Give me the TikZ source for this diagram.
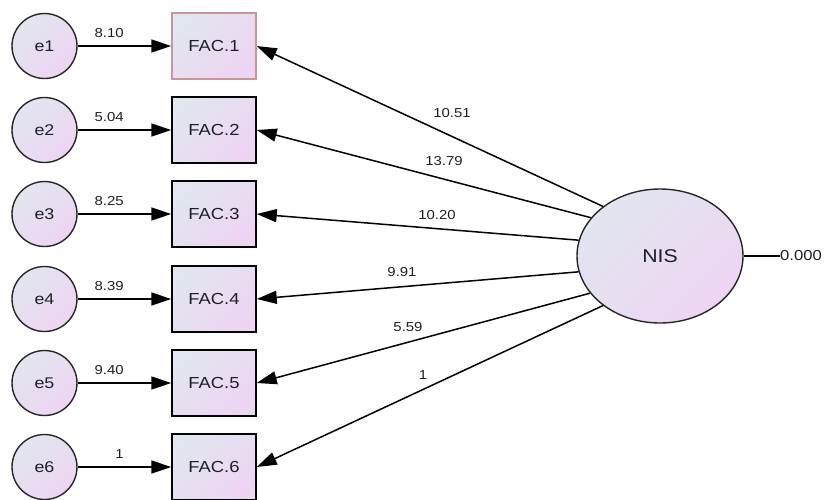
\documentclass[tikz,border=0pt]{standalone}
\usepackage{fontspec}
\setmainfont{Liberation Sans}[FakeStretch=1.15]
\usetikzlibrary{arrows.meta,shapes.geometric}
\definecolor{fillA}{RGB}{225,230,239}
\definecolor{fillB}{RGB}{238,212,243}
\definecolor{rosy}{RGB}{200,150,150}
\definecolor{txt}{RGB}{30,30,40}
\begin{document}
\begin{tikzpicture}[x=1pt,y=-1pt,
  grad/.style={top color=fillA,bottom color=fillB,shading angle=45},
  errc/.style={circle,draw=black!85,line width=1.4pt,grad,minimum size=65pt,inner sep=0pt,
    font=\fontsize{15.5}{18}\selectfont,text=txt},
  obs/.style={rectangle,draw=black,line width=1.5pt,grad,minimum width=84pt,minimum height=66pt,inner sep=0pt,
    font=\fontsize{16}{19}\selectfont,text=txt},
  lat/.style={ellipse,draw=black!85,line width=1.4pt,grad,minimum width=166pt,minimum height=134pt,inner sep=0pt,
    font=\fontsize{18.5}{22}\selectfont,text=txt},
  conn/.style={line width=1.5pt,-{Triangle[length=20pt,width=13pt]}},
  lbl/.style={font=\fontsize{13}{15}\selectfont,text=txt,inner sep=0pt},
  elbl/.style={lbl,pos=0.5,anchor=south east,yshift=8pt}
]
\useasboundingbox (0,0) rectangle (828,499);
\foreach \i/\y in {1/46,2/130,3/214,4/299,5/383,6/467}{
  \node[errc] (e\i) at (44.5,\y) {e\i};
}
\node[obs,draw=rosy] (f1) at (214,46) {FAC.1};
\foreach \i/\y in {2/130,3/214,4/299,5/383,6/467}{
  \node[obs] (f\i) at (214,\y) {FAC.\i};
}
\node[lat] (nis) at (660,256) {NIS};
\draw[conn] (e1) -- node[elbl] (w1) {8.10} (f1);
\draw[conn] (e2) -- node[elbl] (w2) {5.04} (f2);
\draw[conn] (e3) -- node[elbl] (w3) {8.25} (f3);
\draw[conn] (e4) -- node[elbl] (w4) {8.39} (f4);
\draw[conn] (e5) -- node[elbl] (w5) {9.40} (f5);
\draw[conn] (e6) -- node[elbl] (w6) {1} (f6);
\draw[conn] (nis.139) -- (f1.east);
\draw[conn] (nis.151.5) -- (f2.east);
\draw[conn] (nis.169) -- (f3.east);
\draw[conn] (nis.191) -- (f4.east);
\draw[conn] (nis.208.5) -- (f5.east);
\draw[conn] (nis.221) -- (f6.east);
\node[lbl] (l1) at (452,113) {10.51};
\node[lbl] (l2) at (444,161) {13.79};
\node[lbl] (l3) at (437,215) {10.20};
\node[lbl] (l4) at (402,272) {9.91};
\node[lbl] (l5) at (408,327) {5.59};
\node[lbl] (l6) at (423,375) {1};
\node[lbl,font=\fontsize{14.5}{17}\selectfont,anchor=west] (z) at (780,256) {0.000};
\draw[line width=1.4pt] (nis.east) -- (z.west);
\end{tikzpicture}
\end{document}
